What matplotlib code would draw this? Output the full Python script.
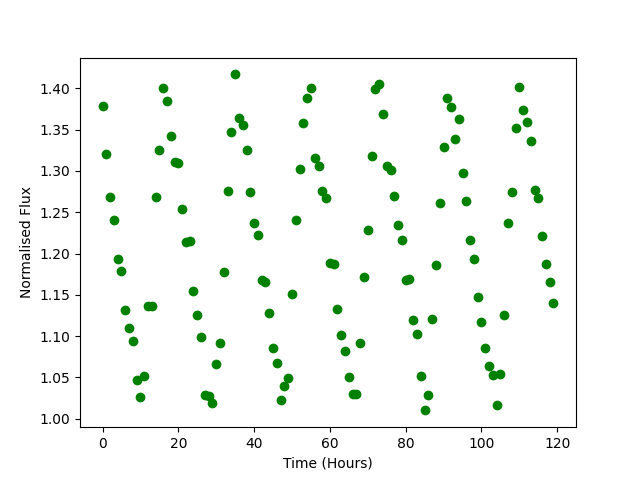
import numpy as np
import matplotlib
matplotlib.use("Agg")
import matplotlib.pyplot as plt


# -------------------------------------------------
# DATA
# -------------------------------------------------

time_hours = np.arange(120)

flux = [
    1.379, 1.320, 1.269, 1.241, 1.193, 1.179, 1.132, 1.110, 1.094, 1.047,
    1.026, 1.052, 1.137, 1.137, 1.269, 1.325, 1.401, 1.385, 1.342, 1.311,
    1.310, 1.254, 1.214, 1.215, 1.155, 1.125, 1.099, 1.029, 1.027, 1.019,
    1.066, 1.092, 1.178, 1.276, 1.347, 1.417, 1.364, 1.356, 1.326, 1.275,
    1.237, 1.223, 1.168, 1.166, 1.128, 1.086, 1.068, 1.023, 1.039, 1.049,
    1.151, 1.241, 1.303, 1.358, 1.388, 1.400, 1.316, 1.306, 1.276, 1.267,
    1.189, 1.187, 1.133, 1.101, 1.082, 1.051, 1.030, 1.030, 1.092, 1.171,
    1.229, 1.318, 1.399, 1.405, 1.369, 1.306, 1.301, 1.270, 1.234, 1.217,
    1.168, 1.169, 1.120, 1.102, 1.052, 1.010, 1.029, 1.121, 1.186, 1.261,
    1.329, 1.388, 1.377, 1.339, 1.363, 1.298, 1.264, 1.217, 1.193, 1.147,
    1.117, 1.086, 1.064, 1.053, 1.017, 1.054, 1.126, 1.237, 1.274, 1.352,
    1.402, 1.374, 1.359, 1.336, 1.277, 1.267, 1.221, 1.187, 1.165, 1.140,
]


# -------------------------------------------------
# PLOT
# -------------------------------------------------

plt.figure(figsize=(6.4, 4.8), dpi=100)

plt.plot(time_hours, flux, "o", color="green")

plt.xlabel("Time (Hours)")
plt.ylabel("Normalised Flux")

plt.savefig("out.png")
plt.close()
